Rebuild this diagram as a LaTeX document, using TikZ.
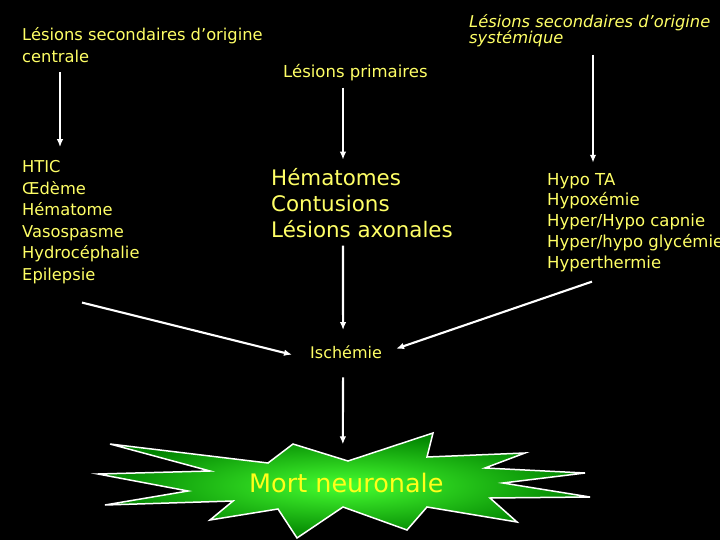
\documentclass[tikz,border=0pt]{standalone}
\usepackage{fontspec}
\setmainfont{DejaVu Sans}
\usetikzlibrary{arrows.meta,calc}
\definecolor{txt}{HTML}{FFFF66}
\definecolor{mortfg}{HTML}{FFFF1A}
\definecolor{burstin}{HTML}{46FF30}
\definecolor{burstout}{HTML}{008200}

\begin{document}
\begin{tikzpicture}[
  x=1pt,y=-1pt,>=Latex,
  every node/.append style={text=txt, inner sep=0pt, anchor=base west, align=left},
  arr/.style={draw=white, line width=2.1pt, -{Latex[length=8pt,width=6.5pt]}},
  title/.style={font=\fontsize{16.3}{22}\selectfont},
  liste/.style={font=\fontsize{16.3}{21.5}\selectfont},
]
% --- black slide ---
\fill[black] (0,0) rectangle (720,540);
\useasboundingbox (0,0) rectangle (720,540);
% --- the three causes (base = last line) ---
\node[title] (centrale) at (22,63) {Lésions secondaires d’origine\\centrale};
\node[font=\fontsize{16.5}{20}\selectfont] (primaires) at (283,78) {Lésions primaires};
\node[title, font=\fontsize{16.3}{16.5}\selectfont\itshape] (systemique) at (469,44)
  {Lésions secondaires d’origine\\systémique};
% --- lists ---
\node[liste] (listcentrale) at (22,280)
  {HTIC\\Œdème\\Hématome\\Vasospasme\\Hydrocéphalie\\Epilepsie};
\node[font=\fontsize{21.4}{26}\selectfont] (listprim) at (271,237)
  {Hématomes\\Contusions\\Lésions axonales};
\node[liste, font=\fontsize{16.5}{20.75}\selectfont] (listsyst) at (547,268)
  {Hypo TA\\Hypoxémie\\Hyper/Hypo capnie\\Hyper/hypo glycémie\\Hyperthermie};
\node[font=\fontsize{16}{18}\selectfont] (ischemie) at (310,358) {Ischémie};
% --- starburst ---
\draw[white, line width=1.5pt, line join=miter, shading=radial, inner color=burstin, outer color=burstout]
  (110,444) -- (268,463) -- (293,444) -- (348,461) -- (433,433) -- (427,457)
  -- (525,453) -- (485,468) -- (585,473) -- (503,483) -- (590,497) -- (490,498)
  -- (517,522) -- (427,507) -- (407,530) -- (343,507) -- (297,538) -- (278,509)
  -- (210,520) -- (233,501) -- (105,505) -- (188,491) -- (98,474) -- (210,471) -- cycle;
\node[text=mortfg, font=\fontsize{25.5}{28}\selectfont] (mort) at (249,492) {Mort neuronale};
% --- arrows ---
\draw[arr] ([shift={(38,9)}]centrale.south west) -- ([shift={(38,-13)}]listcentrale.north west);
\draw[arr] ([shift={(60,6)}]primaires.south west) -- ([shift={(72,-8)}]listprim.north west);
\draw[arr] ([shift={(124,7)}]systemique.south west) -- ([shift={(46,-10)}]listsyst.north west);
\draw[arr] ([shift={(60,19)}]listcentrale.south west) -- ([shift={(-18,3)}]ischemie.west);
\draw[arr] ([shift={(72,8)}]listprim.south west) -- ([shift={(-3,-15)}]ischemie.north);
\draw[arr] ([shift={(45,10)}]listsyst.south west) -- ([shift={(14,-3)}]ischemie.east);
\draw[arr] ([shift={(-3,19)}]ischemie.south) -- ([shift={(-3.5,-28)}]mort.north);
\end{tikzpicture}
\end{document}
